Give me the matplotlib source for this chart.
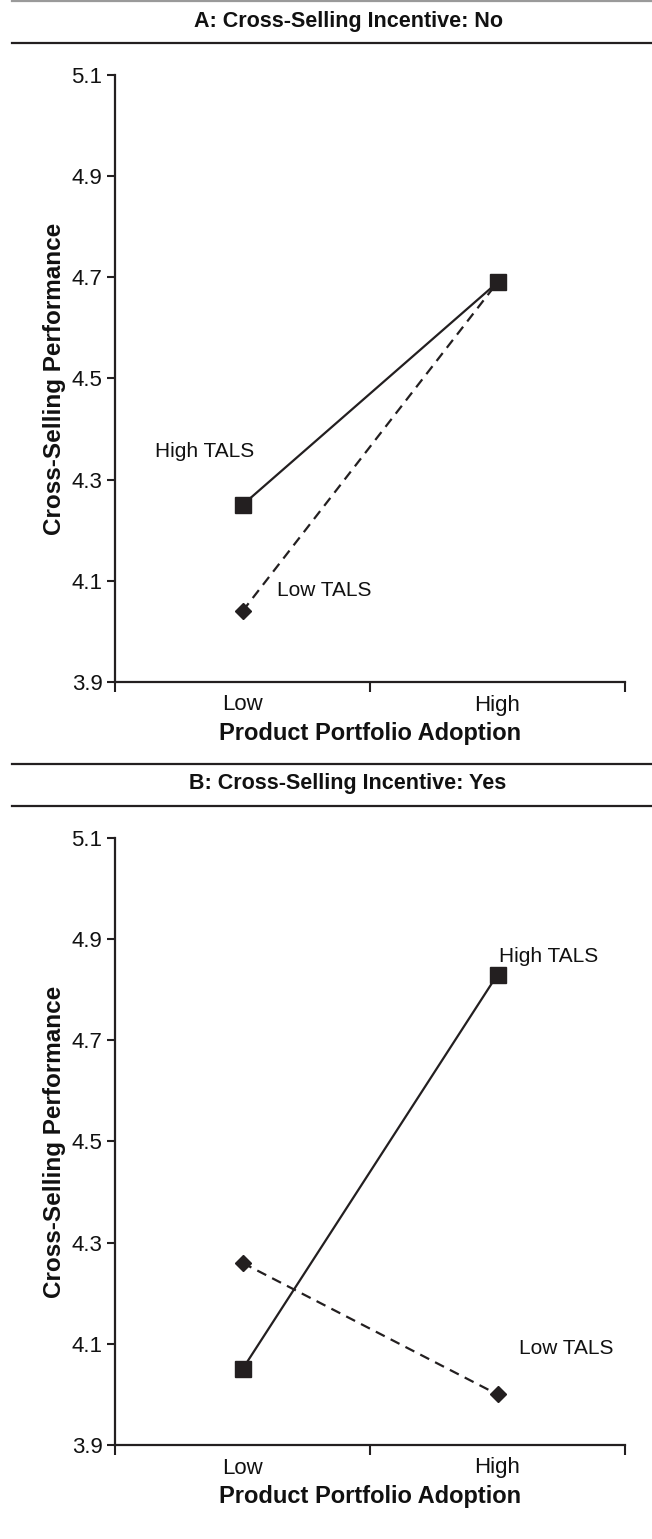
import matplotlib
matplotlib.use("Agg")
import matplotlib.pyplot as plt
from matplotlib.lines import Line2D

plt.rcParams['font.family'] = ['Liberation Sans', 'DejaVu Sans']

# categories on the x axis
adoption = ["Low", "High"]
x_pos = [0.5, 1.5]

# panel A: no cross-selling incentive
a_high_tals = [4.25, 4.69]
a_low_tals = [4.04, 4.69]

# panel B: cross-selling incentive
b_high_tals = [4.05, 4.83]
b_low_tals = [4.26, 4.00]

y_ticks = [3.9, 4.1, 4.3, 4.5, 4.7, 4.9, 5.1]

panels = [
    ("A: Cross-Selling Incentive: No", a_high_tals, a_low_tals,
     (0.35, 4.355), (0.82, 4.08)),
    ("B: Cross-Selling Incentive: Yes", b_high_tals, b_low_tals,
     (1.70, 4.865), (1.77, 4.09)),
]

W, H = 652, 1539
fig = plt.figure(figsize=(W / 100, H / 100), dpi=100)

ink = "#231f20"
txt = "#111111"
fs_tick = 16
fs_xlab = 17
fs_ylab = 17.5
fs_note = 15
fs_title = 15.5


def fy(px):
    return 1 - px / H


for i, (title, high, low, hi_lab, lo_lab) in enumerate(panels):
    off = i * 763
    top_px, bot_px = 75 + off, 682 + off
    ax = fig.add_axes([115 / W, fy(bot_px), 510 / W, (bot_px - top_px) / H])

    ax.plot(x_pos, high, color=ink, lw=1.6, marker="s", ms=11,
            mfc=ink, mec=ink, zorder=3)
    ax.plot(x_pos, low, color=ink, lw=1.6, ls=(0, (4.5, 3)), marker="D",
            ms=8.5, mfc=ink, mec=ink, zorder=3)

    ax.text(hi_lab[0], hi_lab[1], "High TALS", ha="center", va="center",
            fontsize=fs_note, color=txt)
    ax.text(lo_lab[0], lo_lab[1], "Low TALS", ha="center", va="center",
            fontsize=fs_note, color=txt)

    ax.set_xlim(0, 2)
    ax.set_ylim(3.9, 5.1)
    ax.set_yticks(y_ticks)
    ax.set_yticklabels([f"{v:.1f}" for v in y_ticks], fontsize=fs_tick)
    ax.set_xticks([0, 1, 2])
    ax.set_xticklabels(["", "", ""])
    ax.set_xticks(x_pos, minor=True)
    ax.set_xticklabels(adoption, minor=True, fontsize=fs_tick)
    ax.tick_params(axis="x", which="minor", length=0, pad=9,
                   labelcolor=txt)
    ax.tick_params(axis="x", which="major", length=7, width=1.5,
                   direction="out", color=ink)
    ax.tick_params(axis="y", length=6, width=1.5, direction="out",
                   color=ink, pad=3, labelcolor=txt)

    for side in ["top", "right"]:
        ax.spines[side].set_visible(False)
    for side in ["left", "bottom"]:
        ax.spines[side].set_linewidth(1.6)
        ax.spines[side].set_color(ink)

    ax.set_xlabel("Product Portfolio Adoption", fontsize=fs_xlab,
                  fontweight="bold", labelpad=5, color=txt)
    ax.set_ylabel("Cross-Selling Performance", fontsize=fs_ylab,
                  fontweight="bold", labelpad=4, color=txt)

    # title band with rules above and below
    fig.text(348 / W, fy(21 + off), title, ha="center", va="center",
             fontsize=fs_title, fontweight="bold", color=txt)
    top_rule = 1 + off
    rule_color = "#9a9a9a" if i == 0 else ink
    fig.add_artist(Line2D([12 / W, 1], [fy(top_rule), fy(top_rule)],
                          color=rule_color, lw=1.6))
    fig.add_artist(Line2D([12 / W, 1], [fy(43 + off), fy(43 + off)],
                          color=ink, lw=1.6))

fig.savefig("out.png", dpi=100)
